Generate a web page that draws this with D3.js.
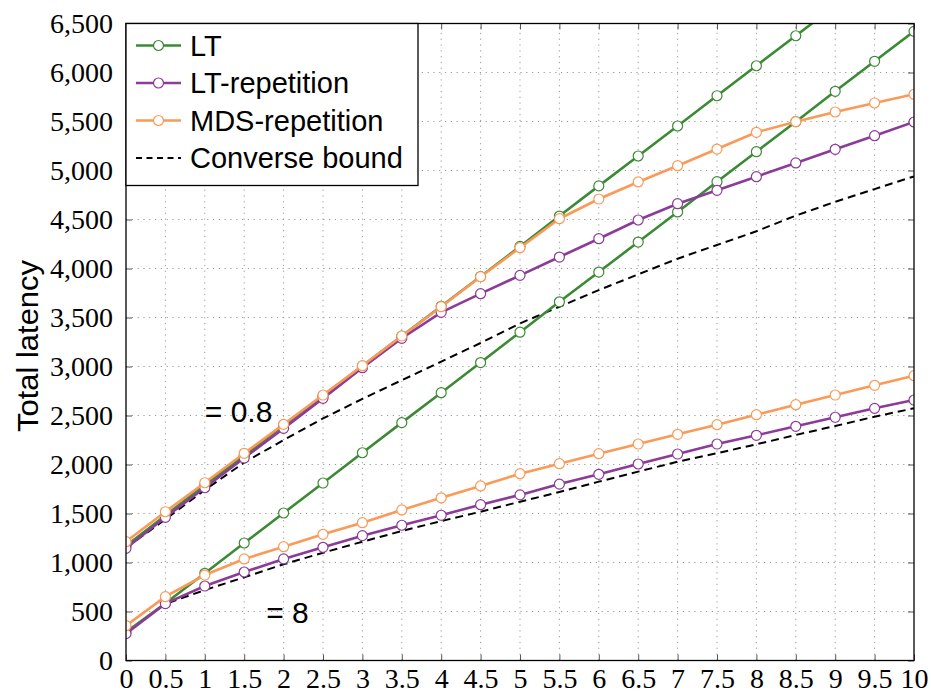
<!DOCTYPE html>
<html>
<head>
<meta charset="utf-8">
<script src="https://cdn.jsdelivr.net/npm/d3@7"></script>
<style>
  body { margin: 0; background: #fff; }
  svg { display: block; }
</style>
</head>
<body>
<svg></svg>
<script>
// x: parameter, step 0.5
// y: total latency

const xValues = d3.range(0, 10.01, 0.5);
const yTicks = d3.range(0, 6501, 500);

// eps = 0.8 group
const ltHigh = [1170, 1480, 1790, 2090, 2400, 2700, 3005, 3310, 3615, 3918, 4225,
                4535, 4843, 5148, 5454, 5763, 6069, 6375, 6681];
const ltRepHigh = [1145, 1461, 1763, 2066, 2369, 2675, 2988, 3288, 3553, 3743, 3930,
                   4117, 4304, 4495, 4661, 4798, 4937, 5077, 5216, 5355, 5495];
const mdsRepHigh = [1212, 1518, 1814, 2114, 2410, 2709, 3008, 3311, 3610, 3916, 4212,
                    4508, 4709, 4883, 5049, 5219, 5390, 5498, 5597, 5689, 5778];
const boundHigh = [1150, 1440, 1740, 2020, 2250, 2470, 2670, 2860, 3050, 3240, 3440,
                   3610, 3780, 3940, 4100, 4240, 4380, 4540, 4680, 4810, 4940];

// eps = 8 group
const ltLow = [290, 584, 890, 1199, 1505, 1811, 2120, 2427, 2733, 3040, 3350,
               3660, 3964, 4270, 4577, 4886, 5192, 5498, 5808, 6114, 6420];
const ltRepLow = [274, 580, 760, 903, 1036, 1155, 1274, 1380, 1482, 1590, 1690,
                  1800, 1900, 2005, 2107, 2209, 2298, 2390, 2482, 2573, 2658];
const mdsRepLow = [355, 651, 872, 1036, 1161, 1288, 1406, 1536, 1660, 1781, 1906,
                   2008, 2110, 2209, 2308, 2406, 2508, 2610, 2709, 2808, 2906];
const boundLow = [290, 577, 719, 849, 982, 1100, 1212, 1321, 1423, 1518, 1620,
                  1719, 1825, 1927, 2029, 2115, 2206, 2301, 2393, 2488, 2573];

const green = "#3b8a34";
const purple = "#8c3b98";
const orange = "#fb9a58";

const serif = "'Liberation Serif', 'DejaVu Serif', serif";
const sans = "'Liberation Sans', 'DejaVu Sans', sans-serif";

const width = 931;
const height = 694;
const margin = {left: 126, right: 17, top: 23.5, bottom: 33.5};

const xScale = d3.scaleLinear()
    .domain([0, 10])
    .range([margin.left, width - margin.right]);

const yScale = d3.scaleLinear()
    .domain([0, 6500])
    .range([height - margin.bottom, margin.top]);

const svg = d3.select("svg")
    .attr("width", width)
    .attr("height", height);

svg.append("defs").append("clipPath")
    .attr("id", "clip")
  .append("rect")
    .attr("x", margin.left)
    .attr("y", margin.top)
    .attr("width", width - margin.left - margin.right)
    .attr("height", height - margin.top - margin.bottom);

// Grid
const grid = svg.append("g")
    .attr("stroke", "#999")
    .attr("stroke-width", 1)
    .attr("stroke-dasharray", "1.2,4.6");

grid.selectAll(".gx")
  .data(xValues.slice(1, -1))
  .enter()
  .append("line")
    .attr("x1", d => xScale(d))
    .attr("x2", d => xScale(d))
    .attr("y1", yScale(0))
    .attr("y2", yScale(6500));

grid.selectAll(".gy")
  .data(yTicks.slice(1, -1))
  .enter()
  .append("line")
    .attr("y1", d => yScale(d))
    .attr("y2", d => yScale(d))
    .attr("x1", xScale(0))
    .attr("x2", xScale(10));

// Axes
const xAxis = d3.axisBottom(xScale)
    .tickValues(xValues)
    .tickFormat(d3.format("~g"))
    .tickSize(-6)
    .tickSizeOuter(0);

const yAxis = d3.axisLeft(yScale)
    .tickValues(yTicks)
    .tickFormat(d3.format(","))
    .tickSize(-6)
    .tickSizeOuter(0);

const gx = svg.append("g")
    .attr("transform", `translate(0, ${yScale(0)})`)
    .call(xAxis);
gx.select(".domain").remove();
gx.selectAll("text")
    .style("font-family", serif)
    .style("font-size", "28px")
    .attr("fill", "#000")
    .attr("dy", "0.9em")
    .attr("y", 2);

const gy = svg.append("g")
    .attr("transform", `translate(${xScale(0)}, 0)`)
    .call(yAxis);
gy.select(".domain").remove();
gy.selectAll("text")
    .style("font-family", serif)
    .style("font-size", "28px")
    .attr("fill", "#000")
    .attr("x", -13)
    .attr("dy", "0.33em");

// ticks on top and right
svg.append("g")
    .attr("transform", `translate(0, ${yScale(6500)})`)
    .call(d3.axisTop(xScale).tickValues(xValues).tickSize(-6).tickFormat(""))
    .select(".domain").remove();
svg.append("g")
    .attr("transform", `translate(${xScale(10)}, 0)`)
    .call(d3.axisRight(yScale).tickValues(yTicks).tickSize(-6).tickFormat(""))
    .select(".domain").remove();

svg.selectAll(".tick line")
    .attr("stroke", "#555")
    .attr("stroke-width", 1);

// Series
const series = [
  {values: ltHigh, color: green},
  {values: ltLow, color: green},
  {values: ltRepHigh, color: purple},
  {values: ltRepLow, color: purple},
  {values: mdsRepHigh, color: orange},
  {values: mdsRepLow, color: orange}
];

const line = d3.line()
    .x(d => xScale(d[0]))
    .y(d => yScale(d[1]));

const plot = svg.append("g").attr("clip-path", "url(#clip)");

[boundHigh, boundLow].forEach(vals => {
  plot.append("path")
      .datum(vals.map((v, i) => [xValues[i], v]))
      .attr("fill", "none")
      .attr("stroke", "#000")
      .attr("stroke-width", 2)
      .attr("stroke-dasharray", "8,5")
      .attr("d", line);
});

series.forEach(s => {
  const pts = s.values.map((v, i) => [xValues[i], v]);
  plot.append("path")
      .datum(pts)
      .attr("fill", "none")
      .attr("stroke", s.color)
      .attr("stroke-width", 2.6)
      .attr("d", line);
  plot.selectAll(null)
    .data(pts.filter(d => d[1] <= 6500))
    .enter()
    .append("circle")
      .attr("cx", d => xScale(d[0]))
      .attr("cy", d => yScale(d[1]))
      .attr("r", 5)
      .attr("fill", "#fff")
      .attr("stroke", s.color)
      .attr("stroke-width", 1.2);
});

// Frame
svg.append("rect")
    .attr("x", xScale(0))
    .attr("y", yScale(6500))
    .attr("width", xScale(10) - xScale(0))
    .attr("height", yScale(0) - yScale(6500))
    .attr("fill", "none")
    .attr("stroke", "#000")
    .attr("stroke-width", 1.3);

// Annotations
svg.append("text")
    .text("= 0.8")
    .attr("x", xScale(1))
    .attr("y", yScale(2430))
    .style("font-family", sans)
    .style("font-size", "30px")
    .attr("fill", "#000");

svg.append("text")
    .text("= 8")
    .attr("x", xScale(1.78))
    .attr("y", yScale(380))
    .style("font-family", sans)
    .style("font-size", "30px")
    .attr("fill", "#000");

// Y label
svg.append("text")
    .text("Total latency")
    .attr("transform", `translate(38, ${(yScale(0) + yScale(6500)) / 2 + 4}) rotate(-90)`)
    .attr("text-anchor", "middle")
    .style("font-family", sans)
    .style("font-size", "29px")
    .attr("textLength", 172)
    .attr("lengthAdjust", "spacingAndGlyphs")
    .attr("fill", "#000");

// Legend
const legendItems = [
  {label: "LT", color: green, dashed: false},
  {label: "LT-repetition", color: purple, dashed: false},
  {label: "MDS-repetition", color: orange, dashed: false},
  {label: "Converse bound", color: "#000", dashed: true}
];

const legend = svg.append("g")
    .attr("transform", `translate(${xScale(0)}, ${yScale(6500)})`);

legend.append("rect")
    .attr("width", 292)
    .attr("height", 162)
    .attr("fill", "#fff")
    .attr("stroke", "#000")
    .attr("stroke-width", 1.3);

const item = legend.selectAll(".item")
  .data(legendItems)
  .enter()
  .append("g")
    .attr("transform", (d, i) => `translate(0, ${22 + i * 37.5})`);

item.append("line")
    .attr("x1", 10)
    .attr("x2", 55)
    .attr("stroke", d => d.color)
    .attr("stroke-width", d => d.dashed ? 2 : 2.6)
    .attr("stroke-dasharray", d => d.dashed ? "6,4.5" : null);

item.filter(d => !d.dashed)
  .append("circle")
    .attr("cx", 32.5)
    .attr("r", 5)
    .attr("fill", "#fff")
    .attr("stroke", d => d.color)
    .attr("stroke-width", 1.2);

item.append("text")
    .text(d => d.label)
    .attr("x", 64)
    .attr("dy", "0.36em")
    .style("font-family", sans)
    .style("font-size", "29px")
    .attr("fill", "#000");
</script>
</body>
</html>
